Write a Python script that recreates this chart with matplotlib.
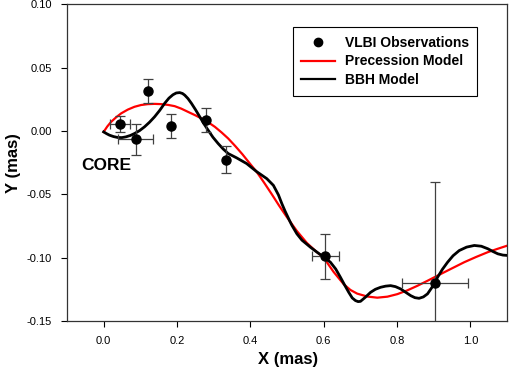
import matplotlib
matplotlib.use("Agg")
import matplotlib.pyplot as plt
from matplotlib.lines import Line2D

plt.rcParams['font.family'] = ['Liberation Sans', 'DejaVu Sans']

# VLBI observations
obs_x = [0.045, 0.087, 0.1205, 0.183, 0.278, 0.335, 0.605, 0.904]
obs_y = [0.0053, -0.0068, 0.0314, 0.0040, 0.0085, -0.0226, -0.0991, -0.1203]
obs_xerr = [0.027, 0.048, 0.0, 0.0, 0.0, 0.0, 0.0375, 0.090]
obs_yerr = [0.0063, 0.0123, 0.0097, 0.0095, 0.0095, 0.0103, 0.018, 0.080]

# Precession model
prec_x = [0.0, 0.010, 0.0203, 0.034, 0.0477, 0.066, 0.0841, 0.102, 0.1205, 0.139,
          0.1573, 0.1755, 0.1937, 0.212, 0.2301, 0.2485, 0.2668, 0.285, 0.3033, 0.3215,
          0.3397, 0.359, 0.3786, 0.398, 0.4175, 0.438, 0.4586, 0.479, 0.4997, 0.527,
          0.5545, 0.577, 0.600, 0.627, 0.6548, 0.673, 0.6915, 0.719, 0.7463, 0.774,
          0.8011, 0.8285, 0.8559, 0.883, 0.9107, 0.947, 0.9836, 1.0157, 1.0477, 1.075,
          1.1025]
prec_y = [-0.0008, 0.0035, 0.0071, 0.0107, 0.0138, 0.0168, 0.0190, 0.0204, 0.0211, 0.0213,
          0.0211, 0.0205, 0.0195, 0.0175, 0.0150, 0.0125, 0.0098, 0.0068, 0.0032, -0.0012,
          -0.0060, -0.0120, -0.0185, -0.0255, -0.0324, -0.0410, -0.0500, -0.0592, -0.0680, -0.0790,
          -0.0885, -0.0945, -0.1000, -0.1112, -0.1210, -0.1255, -0.1284, -0.1307, -0.1316, -0.1308,
          -0.1288, -0.1258, -0.1222, -0.1183, -0.1142, -0.1089, -0.1036, -0.0995, -0.0957, -0.0930,
          -0.0904]

# BBH model
bbh_x = [0.0, 0.008, 0.016, 0.027, 0.038, 0.050, 0.061, 0.073, 0.084, 0.098,
         0.1115, 0.125, 0.1389, 0.153, 0.1663, 0.178, 0.189, 0.198, 0.2074, 0.215,
         0.2211, 0.230, 0.2395, 0.251, 0.2622, 0.2735, 0.2849, 0.298, 0.3123, 0.326,
         0.3397, 0.3627, 0.390, 0.4175, 0.445, 0.463, 0.4767, 0.486, 0.4951, 0.509,
         0.5134, 0.527, 0.5408, 0.564, 0.5819, 0.600, 0.6184, 0.633, 0.6458, 0.657,
         0.6685, 0.678, 0.6868, 0.694, 0.7005, 0.714, 0.7279, 0.741, 0.7553, 0.769,
         0.7827, 0.796, 0.8101, 0.824, 0.8375, 0.849, 0.8603, 0.872, 0.8833, 0.897,
         0.9107, 0.924, 0.9381, 0.953, 0.9699, 0.990, 1.011, 1.030, 1.0477, 1.062,
         1.0751, 1.089, 1.1025]
bbh_y = [-0.0008, -0.0022, -0.0034, -0.0045, -0.0052, -0.0053, -0.0047, -0.0036, -0.0021, 0.0002,
         0.0032, 0.0068, 0.0111, 0.0162, 0.0217, 0.0258, 0.0285, 0.0299, 0.0302, 0.0295,
         0.0282, 0.0255, 0.0217, 0.0165, 0.0111, 0.0056, 0.0006, -0.0050, -0.0100, -0.0143,
         -0.0179, -0.0213, -0.0258, -0.0322, -0.0377, -0.0430, -0.0505, -0.0574, -0.0635, -0.0720,
         -0.0745, -0.0812, -0.0862, -0.0918, -0.0957, -0.0995, -0.1036, -0.1090, -0.1155, -0.1215,
         -0.1274, -0.1318, -0.1339, -0.1347, -0.1345, -0.1312, -0.1274, -0.1250, -0.1234, -0.1225,
         -0.1221, -0.1229, -0.1247, -0.1274, -0.1300, -0.1316, -0.1321, -0.1310, -0.1286, -0.1228,
         -0.1155, -0.1092, -0.1036, -0.0985, -0.0944, -0.0917, -0.0904, -0.0910, -0.0930, -0.0952,
         -0.0970, -0.0980, -0.0983]

xticks = [0.0, 0.2, 0.4, 0.6, 0.8, 1.0]
yticks = [-0.15, -0.10, -0.05, 0.00, 0.05, 0.10]

fig = plt.figure(figsize=(5.09, 3.75), dpi=100)
ax = fig.add_axes([0.1316, 0.144, 0.8644, 0.845])

ax.plot(prec_x, prec_y, color='#ff0000', lw=1.6, zorder=2, solid_joinstyle='round')
ax.plot(bbh_x, bbh_y, color='black', lw=2.0, zorder=3, solid_joinstyle='round')
ax.errorbar(obs_x, obs_y, xerr=obs_xerr, yerr=obs_yerr, fmt='o', color='black',
            ms=6.5, ecolor='#404040', elinewidth=0.9, capsize=3.5, capthick=0.9, zorder=4)

ax.set_xlim(-0.1, 1.1)
ax.set_ylim(-0.15, 0.10)
ax.set_xticks(xticks)
ax.set_xticklabels([f"{v:.1f}" for v in xticks])
ax.set_yticks(yticks)
ax.set_yticklabels([f"{v:.2f}" for v in yticks])
ax.tick_params(direction='out', length=4, width=0.8, labelsize=8, pad=7,
               top=False, right=False)
for s in ax.spines.values():
    s.set_linewidth(0.9)
    s.set_color('#333333')

ax.text(-0.062, -0.027, "CORE", fontsize=12.5, fontweight='bold', ha='left', va='center')

fig.text(0.565, 0.022, "X (mas)", fontsize=12, fontweight='bold', ha='center', va='bottom')
fig.text(0.012, 0.565, "Y (mas)", fontsize=12, fontweight='bold', ha='left', va='center',
         rotation=90)

handles = [Line2D([], [], ls='none', marker='o', color='black', ms=6),
           Line2D([], [], color='#ff0000', lw=1.6),
           Line2D([], [], color='black', lw=1.6)]
labels = ["VLBI Observations", "Precession Model", "BBH Model"]
leg = ax.legend(handles, labels, loc='upper left', bbox_to_anchor=(0.5136, 0.927),
                frameon=True, fancybox=False, edgecolor='black', framealpha=1,
                prop={'weight': 'bold', 'size': 10}, handlelength=2.4,
                borderpad=0.6, labelspacing=0.35, handletextpad=0.75, borderaxespad=0)
leg.get_frame().set_linewidth(0.8)

fig.savefig("out.png", dpi=100)
